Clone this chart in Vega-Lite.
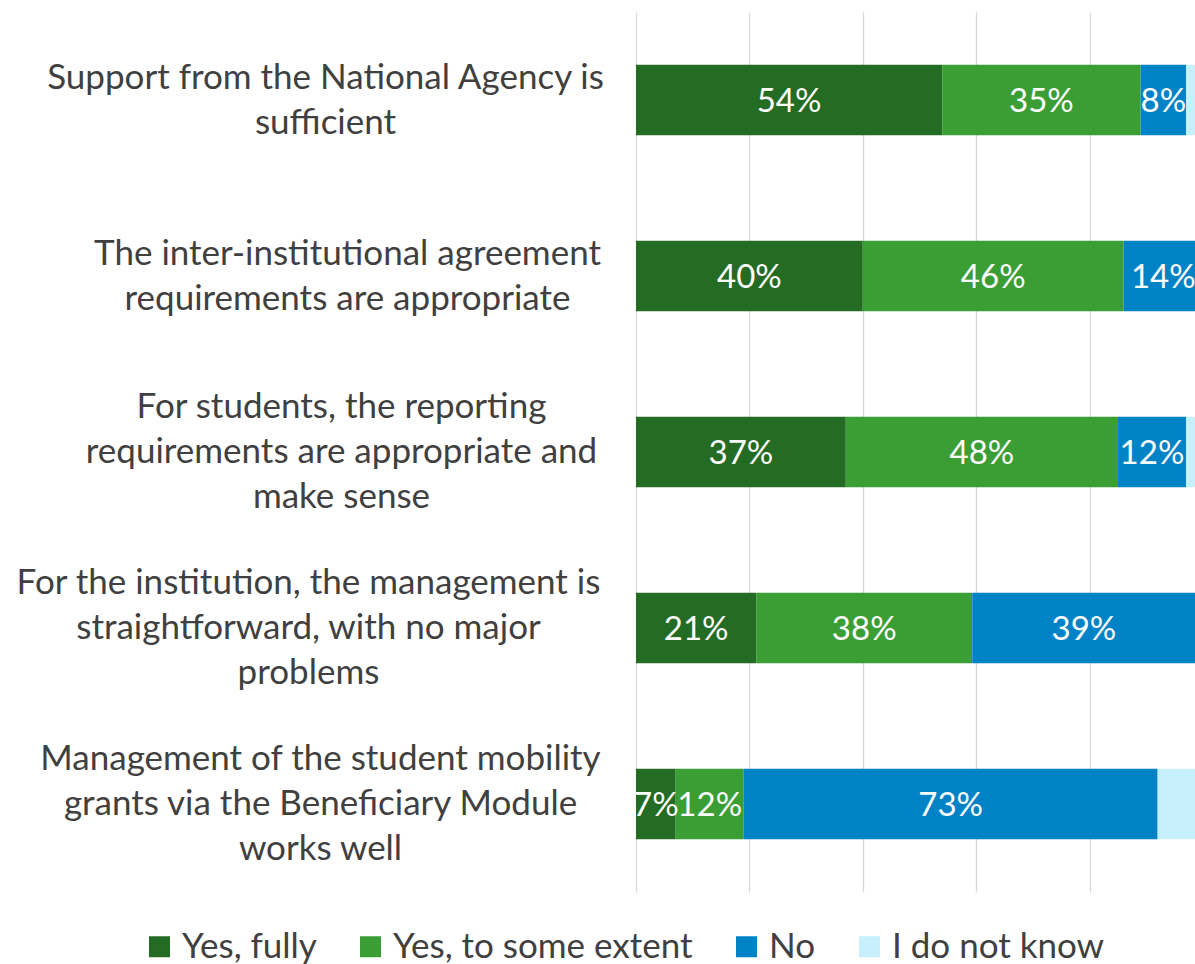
{
  "$schema": "https://vega.github.io/schema/vega-lite/v6.json",
  "width": 567,
  "height": 880,
  "autosize": {"type": "none"},
  "padding": {"left": 636, "top": 12, "right": 0, "bottom": 72},
  "background": "white",
  "config": {"view": {"stroke": null}, "font": "Lato"},
  "data": {
    "values": [
      {"statement": "Support from the National Agency is\nsufficient", "response": "Yes, fully", "k": 1, "share": 0.54},
      {"statement": "Support from the National Agency is\nsufficient", "response": "Yes, to some extent", "k": 2, "share": 0.35},
      {"statement": "Support from the National Agency is\nsufficient", "response": "No", "k": 3, "share": 0.08},
      {"statement": "Support from the National Agency is\nsufficient", "response": "I do not know", "k": 4, "share": 0.03},
      {"statement": "The inter-institutional agreement\nrequirements are appropriate", "response": "Yes, fully", "k": 1, "share": 0.40},
      {"statement": "The inter-institutional agreement\nrequirements are appropriate", "response": "Yes, to some extent", "k": 2, "share": 0.46},
      {"statement": "The inter-institutional agreement\nrequirements are appropriate", "response": "No", "k": 3, "share": 0.14},
      {"statement": "The inter-institutional agreement\nrequirements are appropriate", "response": "I do not know", "k": 4, "share": 0.0},
      {"statement": "For students, the reporting\nrequirements are appropriate and\nmake sense", "response": "Yes, fully", "k": 1, "share": 0.37},
      {"statement": "For students, the reporting\nrequirements are appropriate and\nmake sense", "response": "Yes, to some extent", "k": 2, "share": 0.48},
      {"statement": "For students, the reporting\nrequirements are appropriate and\nmake sense", "response": "No", "k": 3, "share": 0.12},
      {"statement": "For students, the reporting\nrequirements are appropriate and\nmake sense", "response": "I do not know", "k": 4, "share": 0.03},
      {"statement": "For the institution, the management is\nstraightforward, with no major\nproblems", "response": "Yes, fully", "k": 1, "share": 0.212},
      {"statement": "For the institution, the management is\nstraightforward, with no major\nproblems", "response": "Yes, to some extent", "k": 2, "share": 0.381},
      {"statement": "For the institution, the management is\nstraightforward, with no major\nproblems", "response": "No", "k": 3, "share": 0.394},
      {"statement": "For the institution, the management is\nstraightforward, with no major\nproblems", "response": "I do not know", "k": 4, "share": 0.013},
      {"statement": "Management of the student mobility\ngrants via the Beneficiary Module\nworks well", "response": "Yes, fully", "k": 1, "share": 0.07},
      {"statement": "Management of the student mobility\ngrants via the Beneficiary Module\nworks well", "response": "Yes, to some extent", "k": 2, "share": 0.12},
      {"statement": "Management of the student mobility\ngrants via the Beneficiary Module\nworks well", "response": "No", "k": 3, "share": 0.73},
      {"statement": "Management of the student mobility\ngrants via the Beneficiary Module\nworks well", "response": "I do not know", "k": 4, "share": 0.08}
    ]
  },
  "encoding": {
    "y": {
      "field": "statement",
      "type": "nominal",
      "sort": [
        "Support from the National Agency is\nsufficient",
        "The inter-institutional agreement\nrequirements are appropriate",
        "For students, the reporting\nrequirements are appropriate and\nmake sense",
        "For the institution, the management is\nstraightforward, with no major\nproblems",
        "Management of the student mobility\ngrants via the Beneficiary Module\nworks well"
      ],
      "scale": {"paddingInner": 0.6, "paddingOuter": 0.3},
      "axis": {
        "title": null,
        "domain": false,
        "ticks": false,
        "tickSize": 0,
        "labelFont": "Lato",
        "labelFontSize": 35,
        "labelColor": "#404040",
        "labelLineHeight": 45,
        "labelAlign": "center",
        "labelBaseline": "middle",
        "labelPadding": {"expr": "[311,289,295,328,316][round(datum.index*4)]"},
        "labelOffset": {"expr": "-(length(split(datum.label, '\\n')) - 1) * 22.5"},
        "labelExpr": "split(datum.label, '\\n')",
        "labelLimit": 0
      }
    },
    "x": {
      "field": "share",
      "type": "quantitative",
      "stack": "zero",
      "scale": {"domain": [0, 1]},
      "axis": {
        "title": null,
        "values": [0, 0.2, 0.4, 0.6, 0.8, 1],
        "labels": false,
        "ticks": false,
        "domain": false,
        "grid": true,
        "gridColor": "#D9D9D9",
        "gridWidth": 1.3
      }
    },
    "order": {"field": "k", "type": "quantitative"}
  },
  "layer": [
    {
      "mark": {"type": "bar"},
      "encoding": {
        "color": {
          "field": "response",
          "type": "nominal",
          "scale": {
            "domain": ["Yes, fully", "Yes, to some extent", "No", "I do not know"],
            "range": ["#246B24", "#3A9E35", "#0082C6", "#C7EFFC"]
          },
          "legend": {
            "orient": "none",
            "legendX": -494,
            "legendY": 917,
            "direction": "horizontal",
            "title": null,
            "symbolType": "square",
            "symbolSize": 441,
            "symbolStrokeWidth": 0,
            "labelFont": "Lato",
            "labelFontSize": 35,
            "labelColor": "#404040",
            "labelOffset": 5,
            "columnPadding": 36,
            "padding": 0,
            "labelLimit": 0
          }
        }
      }
    },
    {
      "transform": [{"filter": "datum.response !== 'I do not know'"}],
      "mark": {"type": "text", "color": "white", "fontSize": 33, "font": "Lato", "baseline": "middle", "dy": 2, "clip": true},
      "encoding": {
        "x": {"field": "share", "type": "quantitative", "stack": "zero", "bandPosition": 0.5},
        "text": {"field": "share", "type": "quantitative", "format": ".0%"}
      }
    }
  ]
}
